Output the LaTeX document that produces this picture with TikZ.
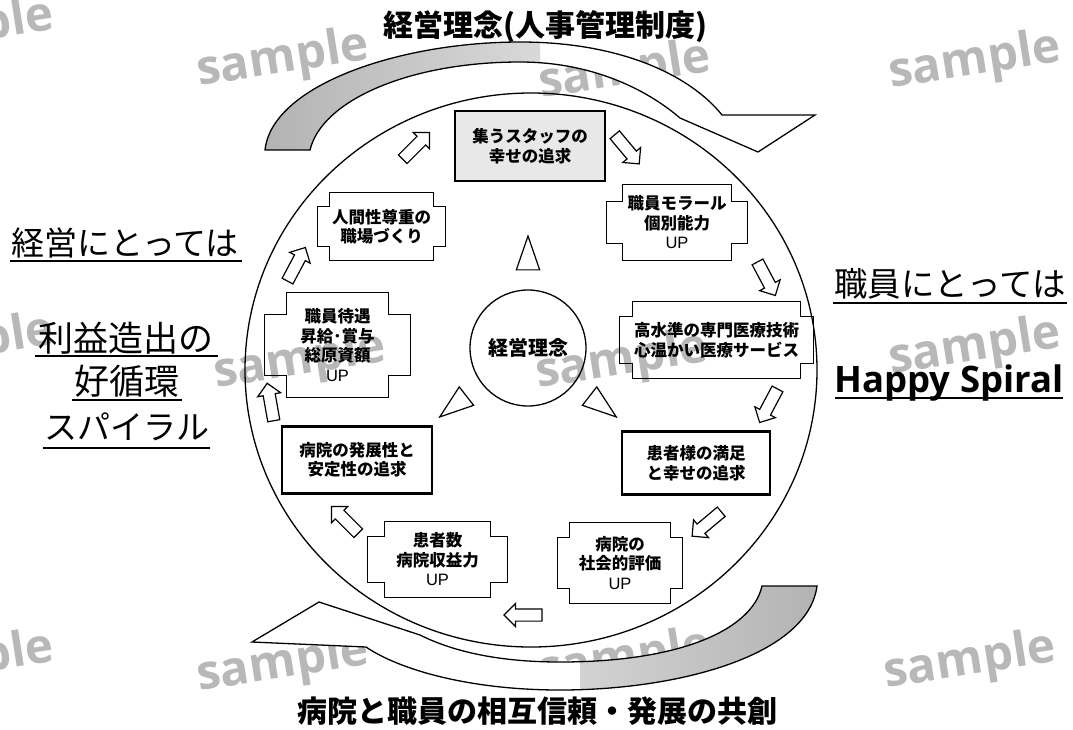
\documentclass[tikz,border=0pt]{standalone}
\usepackage{fontspec}
\setmainfont{Liberation Sans}
\newfontfamily\jp{Noto Sans CJK JP}
\newfontfamily\osans{Open Sans}
\newfontfamily\lat{Liberation Sans}
\usetikzlibrary{shapes.arrows,calc}
\tikzset{
  boxtext/.style={font=\jp\bfseries\fontsize{16.5}{19.5}\selectfont, align=center, inner sep=0pt},
  thickbox/.style={boxtext, draw, line width=2.8pt},
  thinline/.style={line width=1.3pt},
  flowarrow/.style={single arrow, draw, line width=1.2pt, fill=white, minimum height=38pt, inner xsep=0pt, inner ysep=5.5pt, single arrow head extend=5.5pt},
  radtri/.style={draw, line width=1.2pt, fill=white},
  sidelabel/.style={font=\jp\fontsize{33}{33}\selectfont, inner sep=0pt},
  uline/.style={line width=1.6pt},
  wm/.style={font=\osans\bfseries\fontsize{48}{48}\selectfont, text=black!28, rotate=9},
  titletext/.style={font=\jp\bfseries\fontsize{30}{30}\selectfont, inner sep=0pt},
  bigarrow/.style={draw, line width=1.3pt, fill=white},
}
\newcommand\notchbox[3]{%
  \draw[thinline] ([xshift=#2]#1.south west) -- ([xshift=-#2]#1.south east)
   -- ([xshift=-#2,yshift=#3]#1.south east) -- ([yshift=#3]#1.south east)
   -- ([yshift=-#3]#1.north east) -- ([xshift=-#2,yshift=-#3]#1.north east)
   -- ([xshift=-#2]#1.north east) -- ([xshift=#2]#1.north west)
   -- ([xshift=#2,yshift=-#3]#1.north west) -- ([yshift=-#3]#1.north west)
   -- ([yshift=#3]#1.south west) -- ([xshift=#2,yshift=#3]#1.south west) -- cycle;}
\begin{document}
\begin{tikzpicture}[x=1pt,y=-1pt]
\useasboundingbox (0,0) rectangle (1073,729);
\fill[white] (0,0) rectangle (1073,729);
% watermarks
\foreach \wx/\wy [count=\i] in {-32/30,283/60,625/72,975/62,-32/345,300/362,622/362,975/348,-32/662,283/665,625/660,970/662}
  \node[wm] (wm\i) at (\wx,\wy) {sample};
% titles
\node[titletext] (ttop) at (545,27) {経営理念(人事管理制度)};
\node[titletext] (tbot) at (537,711) {病院と職員の相互信頼・発展の共創};
% top curved arrow
\path[bigarrow, path picture={\shade[left color=gray!60, right color=white] (262,20) rectangle (540,160);}]
  (265,150) .. controls (272,85) and (400,42) .. (520,42) .. controls (620,42) and (690,75) .. (722,115)
  -- (815,115) -- (758,152) -- (680,118) .. controls (645,88) and (590,62) .. (520,62)
  .. controls (410,62) and (322,100) .. (310,150) -- cycle;
% bottom curved arrow
\path[bigarrow, path picture={\shade[left color=white, right color=gray!60] (580,575) rectangle (820,700);}]
  (817,586) .. controls (808,655) and (680,690) .. (560,690) .. controls (470,690) and (400,670) .. (366,647)
  -- (252,642) -- (319,602) -- (420,635) .. controls (460,655) and (510,662) .. (560,662)
  .. controls (680,662) and (752,630) .. (762,586) -- cycle;
% big circle
\draw[thinline] (531,370) ellipse [x radius=286, y radius=277];
% centre
\node[circle, draw, thinline, minimum size=116pt, inner sep=0pt, font=\jp\bfseries\fontsize{20}{20}\selectfont] (core) at (528,348) {経営理念};
\foreach \a in {90,218,322}
  \draw[radtri] ($(core)+({-\a}:112)$) -- ($(core)+({-\a+8.5}:79)$) -- ($(core)+({-\a-8.5}:79)$) -- cycle;
% boxes
\node[thickbox, fill=gray!18, minimum width=150pt, minimum height=70pt] (b1) at (530,146) {集うスタッフの\\幸せの追求};
\node[boxtext, minimum width=140pt, minimum height=75pt] (b2) at (677,222.5) {職員モラール\\個別能力\\{\lat\mdseries UP}};
\notchbox{b2}{16pt}{17pt}
\node[boxtext, minimum width=193pt, minimum height=76pt] (b3) at (716.5,340) {高水準の専門医療技術\\心温かい医療サービス};
\notchbox{b3}{13pt}{15pt}
\node[thickbox, minimum width=148pt, minimum height=63pt] (b4) at (696,463) {患者様の満足\\と幸せの追求};
\node[boxtext, minimum width=124pt, minimum height=80pt] (b5) at (620,563) {病院の\\社会的評価\\{\lat\mdseries UP}};
\notchbox{b5}{12pt}{15pt}
\node[boxtext, minimum width=139pt, minimum height=75pt] (b6) at (437.5,559.5) {患者数\\病院収益力\\{\lat\mdseries UP}};
\notchbox{b6}{17pt}{15pt}
\node[thickbox, minimum width=150pt, minimum height=67pt] (b7) at (357,460) {病院の発展性と\\安定性の追求};
\node[boxtext, minimum width=145pt, minimum height=104pt] (b8) at (337.5,345) {職員待遇\\昇給･賞与\\総原資額\\{\lat\mdseries UP}};
\notchbox{b8}{22pt}{22pt}
\node[boxtext, minimum width=127pt, minimum height=67pt] (b9) at (381.5,226.5) {人間性尊重の\\職場づくり};
\notchbox{b9}{12pt}{14pt}
% flow arrows
\node[flowarrow, rotate=45] (f1) at (414,148) {};
\node[flowarrow, rotate=-50] (f2) at (625,147) {};
\node[flowarrow, rotate=-62] (f3) at (765,276) {};
\node[flowarrow, rotate=-118] (f4) at (770,403) {};
\node[flowarrow, rotate=-140] (f5) at (709,522) {};
\node[flowarrow, rotate=180] (f6) at (526,615) {};
\node[flowarrow, rotate=135] (f7) at (347,522) {};
\node[flowarrow, rotate=100] (f8) at (271,405) {};
\node[flowarrow, rotate=62] (f9) at (295,267) {};
% side labels
\node[sidelabel] (l1) at (125,243) {経営にとっては};
\node[sidelabel, font=\jp\fontsize{35}{35}\selectfont] (l2) at (126,338) {利益造出の};
\node[sidelabel, font=\jp\fontsize{35}{35}\selectfont] (l3) at (127,381) {好循環};
\node[sidelabel] (l4) at (127,427) {スパイラル};
\node[sidelabel, font=\jp\fontsize{33.5}{33.5}\selectfont] (r1) at (950,284) {職員にとっては};
\node[font=\osans\bfseries\fontsize{36.5}{36.5}\selectfont, inner sep=0pt, anchor=base] (r2) at (949,392) {Happy Spiral};
\draw[uline] (10,261) -- (242,261);
\draw[uline] (35,356) -- (218,356);
\draw[uline] (72,400) -- (182,400);
\draw[uline] (43,448) -- (210,448);
\draw[uline] (833,303) -- (1067,303);
\draw[uline] (835,398) -- (1063,398);
\end{tikzpicture}
\end{document}
